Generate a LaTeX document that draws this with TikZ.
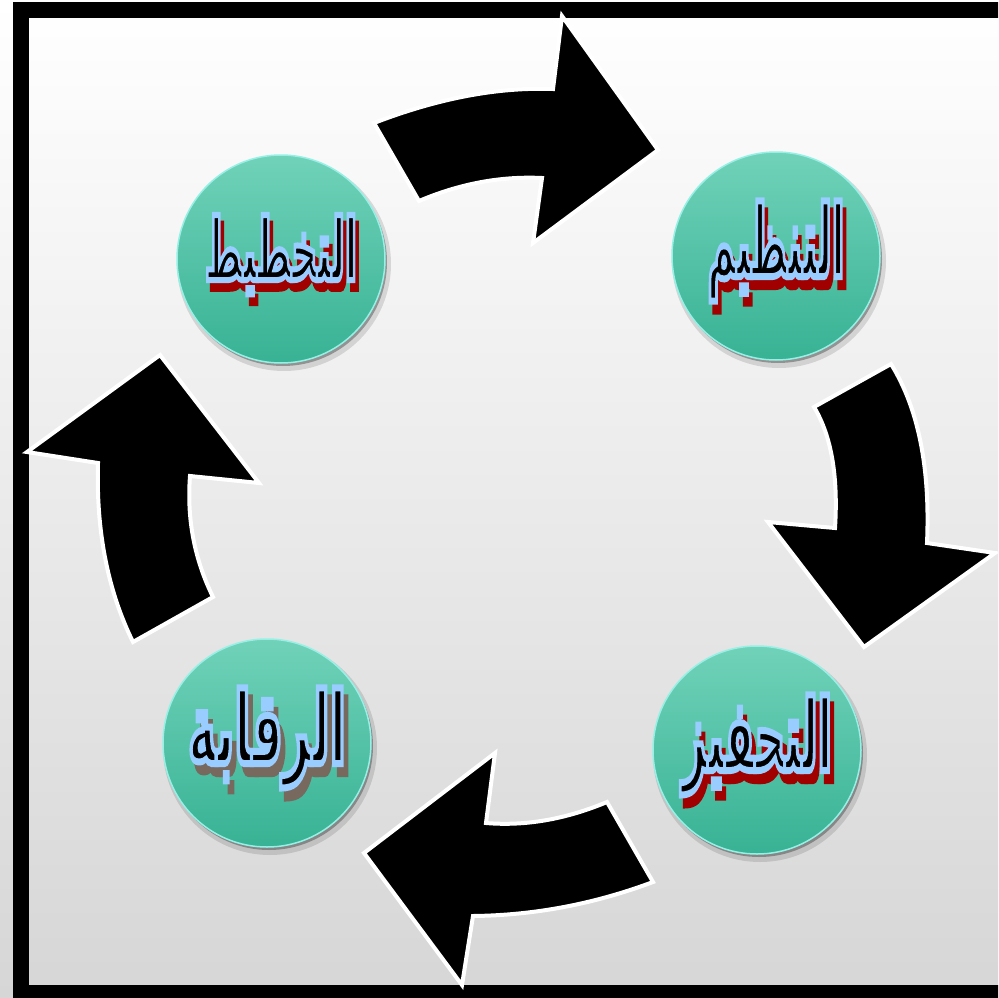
\documentclass[tikz,border=0pt]{standalone}
\usepackage{graphicx}
\usepackage{fontspec}
\TeXXeTstate=1
\newfontfamily\arfontol[Script=Arabic,FakeBold=7]{DejaVu Sans Bold}
\definecolor{lblue}{RGB}{153,204,255}
\definecolor{shred}{RGB}{160,0,0}
\definecolor{shbrown}{RGB}{120,105,95}
\definecolor{tealtop}{RGB}{112,210,185}
\definecolor{tealbot}{RGB}{56,178,148}
\definecolor{rim}{RGB}{150,240,230}
\definecolor{bgbot}{RGB}{214,214,214}
\newcommand\arlayers[2]{%
 \begingroup\fontsize{40}{48}\selectfont\arfontol
 \rlap{\hspace{4pt}\raisebox{-4pt}{\color{#1}\beginR #2\endR}}%
 {\color{black}\special{pdf:literal direct 0.6 0.8 1 RG}\beginR #2\endR}%
 \endgroup}
\newcommand\wlab[4]{\resizebox*{#1}{#2}{\arlayers{#3}{#4}}}
\tikzset{
 bubble/.style={circle, inner sep=0pt, minimum size=208pt, top color=tealtop, bottom color=tealbot, draw=rim, line width=1.5pt},
 bshadow/.style={fill=black, opacity=0.22},
 blockarrow/.style={fill=black, draw=white, line width=4pt, line join=miter, miter limit=4}
}
\begin{document}
\begin{tikzpicture}[x=1pt,y=-1pt]
\useasboundingbox (0,0) rectangle (998,998);
\clip (0,0) rectangle (998,998);
\shade[top color=white, bottom color=bgbot] (0,0) rectangle (998,998);
\draw[line width=16pt] (21,10) rectangle (1012,993);
% shadows of the circles
\foreach \cx/\cy in {281/259, 776/256, 757/750, 267/743}{
  \fill[bshadow, opacity=0.12] (\cx+3,\cy+5) circle (107);
  \fill[bshadow, opacity=0.3] (\cx+2,\cy+3) circle (104);
}
\node[bubble] (plan) at (281,259) {\wlab{152pt}{88pt}{shred}{التخطيط}};
\node[bubble] (org) at (776,256) {\wlab{137pt}{110pt}{shred}{التنظيم}};
\node[bubble] (motiv) at (757,750) {\wlab{150pt}{110pt}{shred}{التحفيز}};
\node[bubble] (ctrl) at (267,743) {\wlab{158pt}{110pt}{shbrown}{الرقابة}};
% block arrows
\filldraw[blockarrow] (374,123) .. controls (438,98.3) and (497.7,87) .. (553,89) -- (562,16) -- (658,150) -- (533,243) -- (542,178) .. controls (500.7,176) and (459.7,183.7) .. (419,201) -- cycle;
\filldraw[blockarrow] (891,364) .. controls (918.3,408) and (930.3,467.7) .. (927,543) -- (995,553) -- (864,647) -- (768,522) -- (835,528) .. controls (838.3,476) and (831.3,435.7) .. (814,407) -- cycle;
\filldraw[blockarrow] (607,802) .. controls (565.7,819.3) and (525.3,826.3) .. (486,823) -- (495,753) -- (364,853) -- (462,985) -- (473,916) .. controls (534.3,915.3) and (594.3,904) .. (653,882) -- cycle;
\filldraw[blockarrow] (213,597) .. controls (194.3,559) and (186.7,518.7) .. (190,476) -- (259,483) -- (160,355) -- (27,452) -- (98,463) .. controls (96,531) and (107.7,590.7) .. (133,642) -- cycle;
\end{tikzpicture}
\end{document}
